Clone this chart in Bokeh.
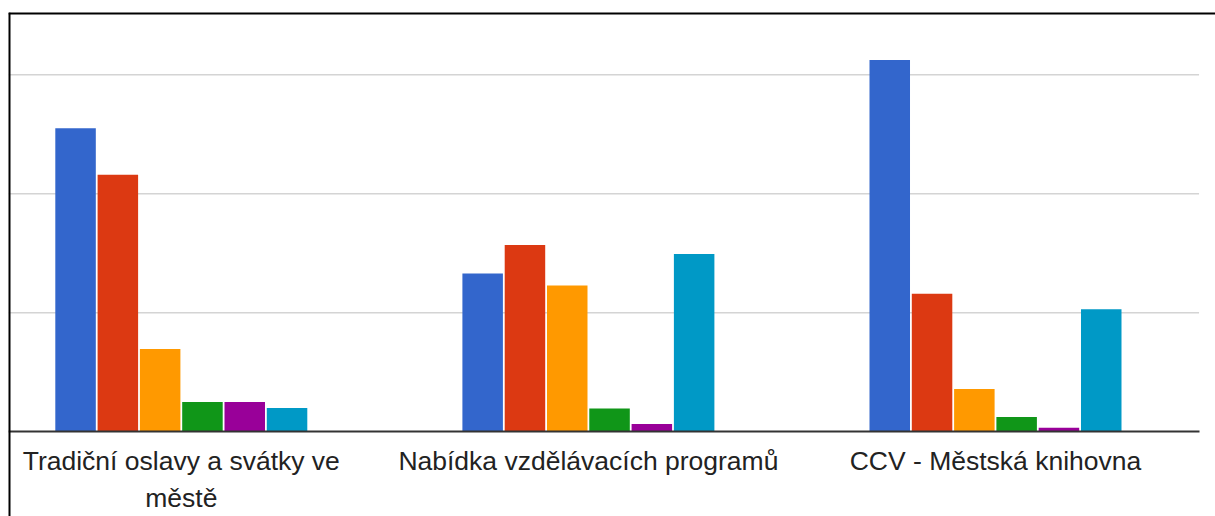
from bokeh.plotting import figure
from bokeh.models import ColumnDataSource, Range1d, FixedTicker, Span
from bokeh.transform import dodge
from bokeh.embed import file_html
from bokeh.resources import INLINE

# ---- data -------------------------------------------------------------
categories = [
    "Tradiční oslavy a svátky ve městě",
    "Nabídka vzdělávacích programů",
    "CCV - Městská knihovna",
]
tick_labels = [
    "Tradiční oslavy a svátky ve\nměstě",
    "Nabídka vzdělávacích programů",
    "CCV - Městská knihovna",
]
series_names = ["Řada 1", "Řada 2", "Řada 3", "Řada 4", "Řada 5", "Řada 6"]
series_1 = [51.0, 26.6, 62.5]
series_2 = [43.2, 31.4, 23.2]
series_3 = [13.9, 24.6, 7.2]
series_4 = [5.0, 3.9, 2.5]
series_5 = [5.0, 1.3, 0.7]
series_6 = [4.0, 29.9, 20.6]
y_gridlines = [20, 40, 60]
colors = ["#3366cc", "#dc3912", "#ff9900", "#109618", "#990099", "#0099c6"]

all_series = [series_1, series_2, series_3, series_4, series_5, series_6]

# ---- layout ------------------------------------------------------------
W, H = 1215, 516
frame_left_px = 8
frame_top_px = 12
band_px = 407.1
first_center_px = 180.8
x_start = 0.5 - (first_center_px - frame_left_px) / band_px
frame_w = W - frame_left_px
x_end = x_start + frame_w / band_px

px_per_unit = 119.0 / 20.0
baseline_px = 431.3
frame_bottom_px = H
y_end = (baseline_px - frame_top_px) / px_per_unit
y_start = -(frame_bottom_px - baseline_px) / px_per_unit

p = figure(
    width=W, height=H,
    x_range=Range1d(x_start, x_end), y_range=Range1d(y_start, y_end),
    output_backend="svg", toolbar_location=None,
    y_axis_location=None,
    min_border_left=frame_left_px, min_border_right=0,
    min_border_top=frame_top_px, min_border_bottom=0,
)
p.outline_line_color = None
p.background_fill_color = "white"
p.border_fill_color = "white"
p.xgrid.visible = False
p.ygrid.visible = False

# frame border visible only on the left and top (the rest is cropped away)
p.add_layout(Span(location=x_start, dimension="height", line_color="black", line_width=4))
p.add_layout(Span(location=y_end, dimension="width", line_color="black", line_width=4))

n_cat = len(categories)
xs = [i + 0.5 for i in range(n_cat)]

# gridlines limited to the chart area
p.segment(x0=[x_start] * len(y_gridlines), x1=[n_cat] * len(y_gridlines),
          y0=y_gridlines, y1=y_gridlines, line_color="#d4d4d4", line_width=1.6)

data = {"x": xs}
for name, vals in zip(series_names, all_series):
    data[name] = vals
source = ColumnDataSource(data)

stride = 0.1039
bw = 0.0995
n = len(series_names)
for k, (name, col) in enumerate(zip(series_names, colors)):
    off = (k - (n - 1) / 2) * stride
    p.vbar(x=dodge("x", off, range=p.x_range), top=name, width=bw, bottom=0,
           source=source, fill_color=col, line_color=None)

ax = p.xaxis[0]
ax.ticker = FixedTicker(ticks=xs)
ax.major_label_overrides = {x: lab for x, lab in zip(xs, tick_labels)}
ax.fixed_location = 0
ax.bounds = (x_start, n_cat)
ax.axis_line_color = "#333333"
ax.axis_line_width = 2
ax.major_tick_line_color = None
ax.minor_tick_line_color = None
ax.major_tick_out = 0
ax.major_tick_in = 0
ax.major_label_standoff = 14
ax.major_label_text_font = "Liberation Sans"
ax.major_label_text_font_size = "26.5px"
ax.major_label_text_color = "#222222"
ax.major_label_text_line_height = 1.25

open("out.html", "w").write(file_html(p, INLINE))
